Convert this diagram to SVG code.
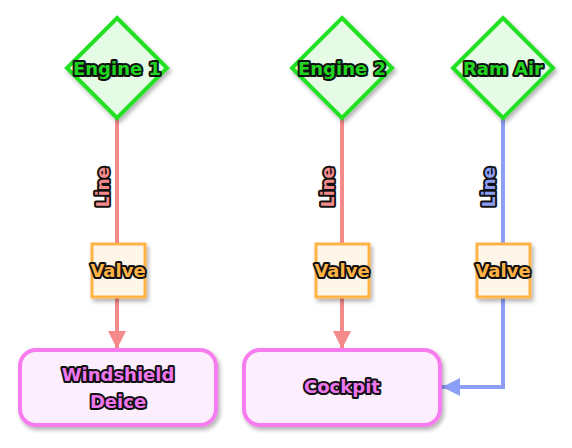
<svg xmlns="http://www.w3.org/2000/svg" width="572" height="448" viewBox="0 0 572 448">
<defs>
<filter id="sh" x="-20%" y="-20%" width="150%" height="150%">
<feDropShadow dx="2" dy="3" stdDeviation="2" flood-color="#000" flood-opacity="0.3"/>
</filter>
<marker id="ap" viewBox="0 0 10 10" refX="10" refY="5" markerWidth="4.5" markerHeight="4.5" markerUnits="strokeWidth" orient="auto">
<path d="M0,0 L10,5 L0,10 z" fill="#f48a8a"/>
</marker>
<marker id="ab" viewBox="0 0 10 10" refX="10" refY="5" markerWidth="4.5" markerHeight="4.5" markerUnits="strokeWidth" orient="auto">
<path d="M0,0 L10,5 L0,10 z" fill="#8c9ef5"/>
</marker>
</defs>
<style>
text{font-family:"DejaVu Sans",sans-serif;font-weight:bold;text-anchor:middle;dominant-baseline:central;paint-order:stroke;stroke:#111;stroke-width:4px;stroke-linejoin:round}
.dia{fill:#e6fbe6;stroke:#22e022;stroke-width:4}
.dt{fill:#22d322;font-size:18px}
.val{fill:#fff6ea;stroke:#ffb347;stroke-width:3}
.vt{fill:#ffb347;font-size:18px}
.box{fill:#fdeefd;stroke:#f77cf0;stroke-width:4}
.bt{fill:#ee77ee;font-size:18px}
.lp{fill:none;stroke:#f48a8a;stroke-width:4}
.lb{fill:none;stroke:#8c9ef5;stroke-width:4}
.ltp{fill:#f48a8a;font-size:17px}
.ltb{fill:#8c9ef5;font-size:17px}
</style>
<g id="connectors">
<line class="lp" x1="117" y1="118" x2="117" y2="244"/>
<line class="lp" x1="117" y1="297" x2="117" y2="349" marker-end="url(#ap)"/>
<line class="lp" x1="342" y1="118" x2="342" y2="244"/>
<line class="lp" x1="342" y1="297" x2="342" y2="349" marker-end="url(#ap)"/>
<line class="lb" x1="503" y1="118" x2="503" y2="244"/>
<polyline class="lb" points="503,297 503,387 442,387" marker-end="url(#ab)"/>
<text class="ltp" transform="translate(103,187) rotate(-90)">Line</text>
<text class="ltp" transform="translate(328,187) rotate(-90)">Line</text>
<text class="ltb" transform="translate(489,187) rotate(-90)">Line</text>
</g>
<g id="engine1"><polygon class="dia" filter="url(#sh)" points="117,18 167,68 117,118 67,68"/><text class="dt" x="117" y="68">Engine 1</text></g>
<g id="engine2"><polygon class="dia" filter="url(#sh)" points="342,18 392,68 342,118 292,68"/><text class="dt" x="342" y="68">Engine 2</text></g>
<g id="ramair"><polygon class="dia" filter="url(#sh)" points="503,18 553,68 503,118 453,68"/><text class="dt" x="503" y="68">Ram Air</text></g>
<g id="valve1"><rect class="val" filter="url(#sh)" x="92" y="244" width="53" height="53"/><text class="vt" x="118" y="270">Valve</text></g>
<g id="valve2"><rect class="val" filter="url(#sh)" x="316" y="244" width="53" height="53"/><text class="vt" x="342" y="270">Valve</text></g>
<g id="valve3"><rect class="val" filter="url(#sh)" x="477" y="244" width="53" height="53"/><text class="vt" x="503" y="270">Valve</text></g>
<g id="windshield"><rect class="box" filter="url(#sh)" x="20" y="350" width="196" height="75" rx="16"/><text class="bt" x="118" y="374">Windshield</text><text class="bt" x="118" y="401">Deice</text></g>
<g id="cockpit"><rect class="box" filter="url(#sh)" x="244" y="350" width="196" height="75" rx="16"/><text class="bt" x="342" y="386">Cockpit</text></g>
</svg>
